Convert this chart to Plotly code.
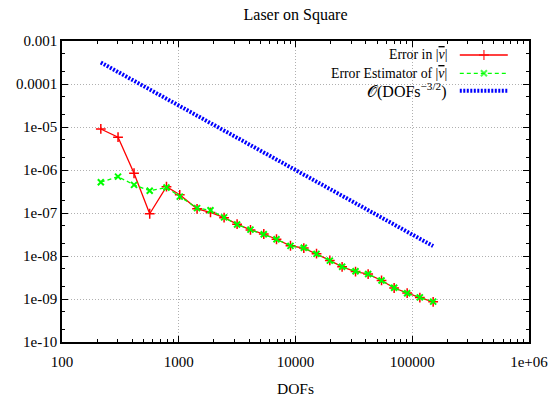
import plotly.graph_objects as go

# ---- data ----
dofs = [215, 302, 414, 564, 785, 1020, 1435, 1870, 2445, 3160, 4115, 5350, 6875,
        9060, 11780, 15140, 19680, 25070, 32670, 41900, 54570, 69960, 90440,
        116200, 151000]
err = [9.0e-6, 5.8e-6, 8.4e-7, 9.6e-8, 4.1e-7, 2.65e-7, 1.25e-7, 1.03e-7, 7.8e-8,
       5.5e-8, 4.05e-8, 3.25e-8, 2.45e-8, 1.73e-8, 1.53e-8, 1.13e-8, 7.9e-9,
       5.6e-9, 4.35e-9, 3.8e-9, 2.7e-9, 1.8e-9, 1.37e-9, 1.08e-9, 8.6e-10]
est = [5.2e-7, 7.0e-7, 4.5e-7, 3.3e-7, 3.9e-7, 2.4e-7, 1.3e-7, 1.16e-7, 7.9e-8,
       5.4e-8, 4.1e-8, 3.2e-8, 2.45e-8, 1.72e-8, 1.55e-8, 1.12e-8, 7.8e-9,
       5.6e-9, 4.4e-9, 3.8e-9, 2.7e-9, 1.82e-9, 1.36e-9, 1.09e-9, 8.7e-10]
ref = [3.17e-4, 1.905e-4, 1.187e-4, 7.47e-5, 4.55e-5, 3.07e-5, 1.84e-5, 1.237e-5,
       8.27e-6, 5.63e-6, 3.79e-6, 2.56e-6, 1.754e-6, 1.16e-6, 7.82e-7, 5.37e-7,
       3.62e-7, 2.52e-7, 1.693e-7, 1.166e-7, 7.84e-8, 5.4e-8, 3.68e-8, 2.52e-8,
       1.70e-8]

VBAR = '|<span style="text-decoration:overline"><i>v</i></span>|'
series_names = ["Error in " + VBAR, "Error Estimator of " + VBAR,
                "𝒪(DOFs<sup>−3/2</sup>)"]
x_tickvals = [100, 1000, 10000, 100000, 1000000]
x_ticktext = ["100", "1000", "10000", "100000", "1e+06"]
y_tickvals = [1e-3, 1e-4, 1e-5, 1e-6, 1e-7, 1e-8, 1e-9, 1e-10]
y_ticktext = ["0.001", "0.0001", "1e-05", "1e-06", "1e-07", "1e-08", "1e-09", "1e-10"]
x_minor = [m * 10 ** e for e in range(2, 6) for m in range(2, 10)]
y_minor = [m * 10.0 ** e for e in range(-10, -3) for m in (2, 5)]

FONT = "Liberation Serif"
RED, GREEN, BLUE = "#ff0000", "#00ff00", "#0000ff"
RED_STYLE = dict(line=dict(color=RED, width=1.3),
                 marker=dict(symbol="cross-thin", size=7, line=dict(color=RED, width=1.5)))
GREEN_STYLE = dict(line=dict(color=GREEN, width=1.3, dash="4px,3px"),
                   marker=dict(symbol="x-thin", size=6, line=dict(color=GREEN, width=2)))
BLUE_STYLE = dict(line=dict(color=BLUE, width=4, dash="2px,1.5px"))

fig = go.Figure()
fig.add_trace(go.Scatter(x=dofs, y=err, mode="lines+markers", showlegend=False,
                         **RED_STYLE))
fig.add_trace(go.Scatter(x=dofs, y=est, mode="lines+markers", showlegend=False,
                         **GREEN_STYLE))
fig.add_trace(go.Scatter(x=[dofs[0], dofs[-1]], y=[ref[0], ref[-1]], mode="lines",
                         showlegend=False, **BLUE_STYLE))

# ---- custom key (samples to the right of the text, like gnuplot) ----
rows = [0.9535, 0.8927, 0.8349]
key_x = [0.8518, 0.9035, 0.9546]
for yy, st, mode in zip(rows, [RED_STYLE, GREEN_STYLE, BLUE_STYLE],
                        ["lines+markers", "lines+markers", "lines"]):
    tr = go.Scatter(x=key_x, y=[yy, yy, yy], xaxis="x2", yaxis="y2",
                    showlegend=False, hoverinfo="skip", mode=mode, **st)
    if mode == "lines+markers":
        tr.marker.size = [0, st["marker"]["size"], 0]
    fig.add_trace(tr)

for yy, name, fs in zip(rows, series_names, [13.8, 13.8, 16]):
    fig.add_annotation(x=0.826, y=yy, xref="paper", yref="paper", text=name,
                       showarrow=False, xanchor="right", yanchor="middle",
                       borderpad=0, font=dict(family=FONT, size=fs, color="black"))

fig.add_shape(type="rect", xref="paper", yref="paper", x0=0.2206, x1=0.997,
              y0=0.777, y1=0.997, fillcolor="white", line=dict(width=0),
              layer="between")

axis_common = dict(
    type="log", showline=True, linecolor="black", linewidth=1.5, mirror="ticks",
    ticks="inside", ticklen=6, tickwidth=1, tickcolor="black", automargin=False,
    showgrid=True, gridcolor="#b0b0b0", griddash="1px,2px", gridwidth=1,
    zeroline=False, tickfont=dict(family=FONT, size=15, color="black"),
)
fig.update_layout(
    width=550, height=397,
    margin=dict(l=62, r=21, t=41, b=55, autoexpand=False),
    plot_bgcolor="white", paper_bgcolor="white",
    title=dict(text="Laser on Square", x=0.5, xref="paper", y=1 - 14 / 397,
               yref="container", xanchor="center", yanchor="middle",
               font=dict(family=FONT, size=16, color="black")),
    xaxis=dict(range=[2, 6], tickvals=x_tickvals, ticktext=x_ticktext,
               ticklabelstandoff=5,
               title=dict(text="DOFs", font=dict(family=FONT, size=15.5, color="black"),
                          standoff=15),
               minor=dict(tickvals=x_minor, ticks="inside", ticklen=3,
                          tickcolor="black", showgrid=False),
               **axis_common),
    yaxis=dict(range=[-10, -3], tickvals=y_tickvals, ticktext=y_ticktext,
               minor=dict(tickvals=y_minor, ticks="inside", ticklen=3,
                          tickcolor="black", showgrid=False),
               **axis_common),
    xaxis2=dict(overlaying="x", range=[0, 1], visible=False),
    yaxis2=dict(overlaying="y", range=[0, 1], visible=False),
    showlegend=False,
)

fig.write_html("out.html")
